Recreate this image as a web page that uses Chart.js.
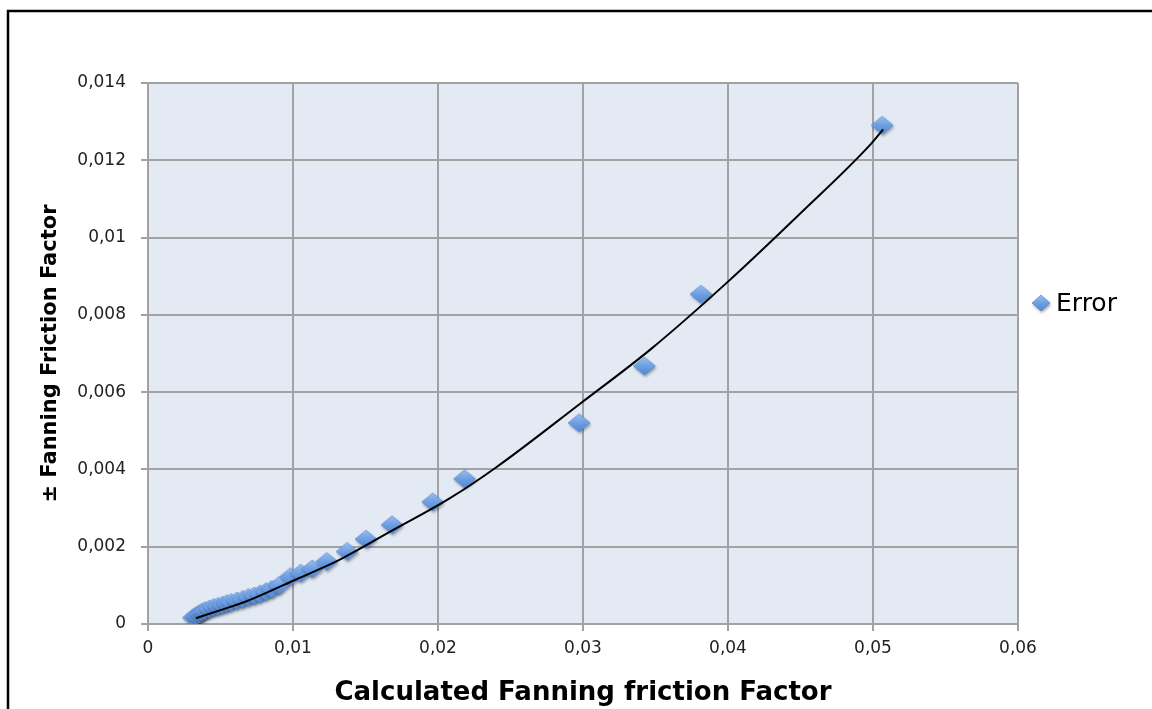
<!DOCTYPE html>
<html lang="en">
<head>
  <meta charset="UTF-8">
  <title>Error vs Calculated Fanning friction Factor</title>
  <script src="https://cdn.jsdelivr.net/npm/chart.js"></script>
  <style>
    html, body { margin: 0; padding: 0; background: #fff; }
    #wrap { width: 1152px; height: 709px; }
  </style>
</head>
<body>
  <div id="wrap"><canvas id="fanChart" width="1152" height="709"></canvas></div>

  <script>
    // measured points (Error series)
    const errX = [0.0032, 0.0034, 0.0036, 0.0038, 0.0040, 0.0043, 0.0046, 0.0049, 0.0052, 0.0055,
                  0.0058, 0.0062, 0.0066, 0.0070, 0.0074, 0.0078, 0.0082, 0.0086, 0.0091, 0.0099,
                  0.0106, 0.0114, 0.0124, 0.0138, 0.0151, 0.0169, 0.0197, 0.0219, 0.0298, 0.0343,
                  0.0382, 0.0507];
    const errY = [0.00014, 0.00019, 0.00024, 0.00028, 0.00032, 0.00036, 0.00040, 0.00043, 0.00046, 0.00050,
                  0.00053, 0.00057, 0.00061, 0.00066, 0.00070, 0.00075, 0.00081, 0.00087, 0.00097, 0.00120,
                  0.00129, 0.00140, 0.00159, 0.00185, 0.00217, 0.00254, 0.00313, 0.00373, 0.00518, 0.00665,
                  0.00851, 0.01288];

    // trend line
    const trendX = [0.0033, 0.0050, 0.0068, 0.0100, 0.0132, 0.0167, 0.0208, 0.0240, 0.0298, 0.0347,
                    0.0400, 0.0450, 0.0498, 0.0507];
    const trendY = [0.00015, 0.00036, 0.00059, 0.00112, 0.00166, 0.00239, 0.00325, 0.00405, 0.00570, 0.00712,
                    0.00886, 0.01063, 0.01240, 0.01280];

    const xTicks = [0, 0.01, 0.02, 0.03, 0.04, 0.05, 0.06];
    const yTicks = [0, 0.002, 0.004, 0.006, 0.008, 0.01, 0.012, 0.014];

    const seriesName = 'Error';
    const xTitle = 'Calculated Fanning friction Factor';
    const yTitle = '\u00B1 Fanning Friction Factor';

    // diamond marker drawn once, reused as pointStyle
    function makeDiamond(hw, hh) {
      const c = document.createElement('canvas');
      c.width = 2 * hw + 8; c.height = 2 * hh + 8;
      const g = c.getContext('2d');
      const cx = hw + 3, cy = hh + 3;
      g.save();
      g.shadowColor = 'rgba(0,0,0,0.35)';
      g.shadowBlur = 3;
      g.shadowOffsetX = 1;
      g.shadowOffsetY = 2;
      const grad = g.createLinearGradient(0, cy - hh, 0, cy + hh);
      grad.addColorStop(0, '#98c0f0');
      grad.addColorStop(0.5, '#6e9fe2');
      grad.addColorStop(1, '#5088d4');
      g.fillStyle = grad;
      g.beginPath();
      g.moveTo(cx, cy - hh);
      g.lineTo(cx + hw, cy);
      g.lineTo(cx, cy + hh);
      g.lineTo(cx - hw, cy);
      g.closePath();
      g.fill();
      g.restore();
      g.strokeStyle = 'rgba(80,130,205,0.8)';
      g.lineWidth = 0.8;
      g.stroke();
      return c;
    }
    const diamond = makeDiamond(11, 9);
    const legendDiamond = makeDiamond(9, 8);

    function fmt(v, digits) {
      if (Math.abs(v) < 1e-12) return '0';
      return String(Number(v.toFixed(digits))).replace('.', ',');
    }

    const plotBg = {
      id: 'plotBg',
      beforeDraw(chart) {
        const {ctx, chartArea: a} = chart;
        ctx.save();
        ctx.fillStyle = '#e3eaf4';
        ctx.fillRect(a.left, a.top, a.right - a.left, a.bottom - a.top);
        // outer frame
        ctx.strokeStyle = '#000';
        ctx.lineWidth = 2.5;
        ctx.strokeRect(8, 11, 1170, 720);
        ctx.restore();
      }
    };

    const sideLegend = {
      id: 'sideLegend',
      afterDraw(chart) {
        const ctx = chart.ctx;
        ctx.save();
        ctx.drawImage(legendDiamond, 1041 - legendDiamond.width / 2 + 1, 303 - legendDiamond.height / 2 + 1);
        ctx.fillStyle = '#000';
        ctx.font = '25px "DejaVu Sans"';
        ctx.textBaseline = 'middle';
        ctx.textAlign = 'left';
        ctx.fillText(seriesName, 1056, 304);
        ctx.restore();
      }
    };

    const gridColor = '#a2a2a2';
    const tickFont = { family: '"DejaVu Sans"', size: 17 };

    const ctx = document.getElementById('fanChart').getContext('2d');
    const chart = new Chart(ctx, {
      type: 'scatter',
      data: {
        datasets: [
          {
            label: 'trend',
            data: trendX.map((x, i) => ({ x, y: trendY[i] })),
            showLine: true,
            borderColor: '#000',
            borderWidth: 2,
            pointRadius: 0,
            cubicInterpolationMode: 'monotone',
            fill: false,
            order: 0
          },
          {
            label: seriesName,
            data: errX.map((x, i) => ({ x, y: errY[i] })),
            pointStyle: diamond,
            pointRadius: 11,
            showLine: false,
            order: 1
          }
        ]
      },
      options: {
        responsive: false,
        animation: false,
        layout: { padding: { top: 83, right: 134, left: 0, bottom: 0 } },
        plugins: {
          legend: { display: false },
          tooltip: { enabled: false }
        },
        scales: {
          x: {
            type: 'linear',
            min: 0,
            max: 0.06,
            afterBuildTicks: (s) => { s.ticks = xTicks.map(v => ({ value: v })); },
            afterFit: (s) => { s.height = 85; },
            grid: { color: gridColor, lineWidth: 2, tickLength: 7, tickColor: gridColor },
            border: { color: gridColor, width: 2 },
            ticks: {
              color: '#222',
              font: tickFont,
              padding: 7,
              maxRotation: 0,
              callback: (v) => fmt(v, 2)
            },
            title: {
              display: true,
              text: xTitle,
              color: '#000',
              font: { family: '"DejaVu Sans"', size: 26, weight: 'bold' },
              padding: { top: 12, bottom: 0 }
            }
          },
          y: {
            type: 'linear',
            min: 0,
            max: 0.014,
            afterBuildTicks: (s) => { s.ticks = yTicks.map(v => ({ value: v })); },
            afterFit: (s) => { s.width = 148; },
            grid: { color: gridColor, lineWidth: 2, tickLength: 7, tickColor: gridColor },
            border: { color: gridColor, width: 2 },
            ticks: {
              color: '#222',
              font: tickFont,
              padding: 15,
              callback: (v) => fmt(v, 3)
            },
            title: {
              display: true,
              text: yTitle,
              color: '#000',
              font: { family: '"DejaVu Sans"', size: 21, weight: 'bold' },
              padding: { top: 38, bottom: 0 }
            }
          }
        }
      },
      plugins: [plotBg, sideLegend]
    });
  </script>
</body>
</html>
